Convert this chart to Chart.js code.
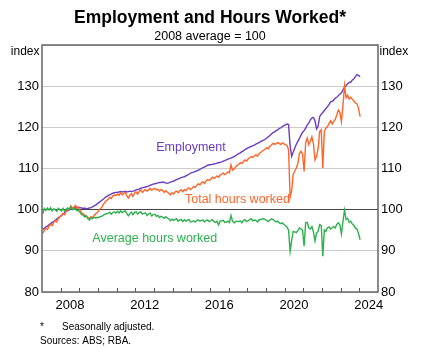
<!DOCTYPE html>
<html>
<head>
<meta charset="utf-8">
<script src="https://cdn.jsdelivr.net/npm/chart.js@4"></script>
<style>
  html, body { margin: 0; padding: 0; background: #fff; }
  canvas { display: block; }
</style>
</head>
<body>
<canvas id="chart" width="444" height="354"></canvas>
<script>
// Monthly data, Jan 2007 to Jan 2024 (2008 average = 100)
const startYear = 2007;
const yearLabels = [2008, 2012, 2016, 2020, 2024];
const yTicks = [80, 90, 100, 110, 120, 130, 140];

const employment = [
  95.2, 95.5, 95.8, 96.0, 96.3, 96.6, 96.9, 97.1, 97.4, 97.7, 98.0, 98.3,
  98.6, 98.9, 99.2, 99.5, 99.8, 100.0, 100.2, 100.4, 100.5, 100.6, 100.6, 100.6,
  100.5, 100.4, 100.3, 100.4, 100.2, 100.3, 100.4, 100.5, 100.7, 100.9, 101.1, 101.4,
  101.7, 102.0, 102.3, 102.6, 102.9, 103.2, 103.4, 103.6, 103.8, 104.0, 104.1, 104.2,
  104.2, 104.3, 104.4, 104.3, 104.4, 104.5, 104.3, 104.4, 104.5, 104.4, 104.5, 104.6,
  104.8, 104.9, 105.0, 105.2, 105.3, 105.4, 105.5, 105.6, 105.7, 105.9, 106.1, 106.2,
  106.3, 106.4, 106.5, 106.6, 106.6, 106.7, 106.6, 106.5, 106.4, 106.5, 106.7, 106.8,
  106.9, 107.1, 107.3, 107.5, 107.6, 107.8, 107.9, 108.0, 108.2, 108.4, 108.6, 108.9,
  109.0, 109.1, 109.3, 109.4, 109.6, 109.8, 110.0, 110.2, 110.4, 110.6, 110.8, 110.9,
  110.9, 111.0, 111.1, 111.2, 111.3, 111.4, 111.5, 111.6, 111.8, 111.9, 112.1, 112.3,
  112.4, 112.5, 112.7, 112.9, 113.1, 113.4, 113.6, 113.8, 114.1, 114.3, 114.6, 114.8,
  115.0, 115.2, 115.4, 115.5, 115.7, 115.9, 116.1, 116.3, 116.5, 116.7, 116.9, 117.1,
  117.4, 117.7, 118.0, 118.4, 118.7, 118.9, 119.2, 119.4, 119.7, 119.9, 120.2, 120.4,
  120.6, 120.8, 120.7, 115.5, 113.0, 114.0, 115.0, 115.9, 116.6, 117.3, 118.1, 118.8,
  119.2, 119.8, 120.6, 121.0, 121.8, 122.3, 122.4, 121.6, 119.6, 120.3, 122.6, 123.2,
  123.6, 124.1, 124.6, 125.0, 125.5, 126.2, 126.3, 126.6, 127.1, 127.3, 127.7, 128.1,
  128.4, 129.1, 129.8, 130.1, 130.6, 130.9, 131.0, 131.5, 131.8, 132.3, 132.8, 132.6,
  132.3
];

const totalHours = [
  94.3, 94.9, 95.5, 95.2, 96.0, 96.4, 96.1, 96.9, 97.3, 97.0, 97.8, 98.3,
  98.5, 99.1, 98.8, 99.6, 100.2, 100.0, 100.9, 100.4, 100.6, 101.0, 100.3, 100.5,
  99.8, 99.2, 99.0, 98.6, 98.4, 98.1, 97.9, 98.3, 98.0, 98.6, 99.0, 99.3,
  99.8, 100.2, 100.6, 101.3, 101.8, 102.2, 102.5, 103.0, 102.7, 103.3, 103.6, 103.4,
  103.8, 103.5, 104.1, 103.6, 103.9, 104.2, 103.4, 102.8, 103.5, 103.9, 103.2, 104.0,
  104.3, 103.8, 104.4, 104.8, 104.2, 104.6, 104.9, 104.5, 104.8, 105.2, 104.7, 105.0,
  105.2, 104.8, 105.0, 104.5, 104.9, 104.7, 104.2, 104.6, 104.3, 104.0, 103.6, 104.1,
  103.8, 104.3, 104.5, 104.1, 104.6, 104.8, 104.4, 104.9, 104.6, 105.1, 105.3, 104.9,
  105.2, 105.6, 105.4, 105.9, 106.3, 106.0, 106.5, 106.8, 106.4, 107.0, 107.3, 107.1,
  107.4, 107.9, 107.6, 107.8, 108.2, 107.9, 108.4, 108.6, 108.9, 108.5, 108.8, 109.2,
  109.0, 110.9, 109.6, 109.9, 110.4, 110.8, 111.0, 111.4, 111.2, 111.7, 112.1, 111.8,
  112.3, 112.6, 112.9, 112.7, 113.1, 113.3, 113.0, 113.6, 113.9, 114.2, 114.5, 114.7,
  115.0, 114.8, 115.4, 115.7, 116.1, 115.9, 116.0, 116.3, 116.1, 115.8, 116.2, 116.0,
  115.8, 115.6, 114.6, 103.0, 104.6, 108.6, 109.4, 110.1, 111.2, 113.7, 114.2, 113.6,
  109.3, 116.2, 117.4, 115.8, 116.6, 117.7, 116.0, 112.1, 112.9, 114.8, 119.0, 119.4,
  110.1, 119.0, 119.8, 120.2, 120.9, 121.6, 120.8, 121.4, 121.9, 123.0, 124.2, 123.6,
  121.4, 125.4, 130.1, 127.2, 127.8, 126.9, 127.3, 126.8, 126.4, 125.9, 125.7, 124.6,
  122.6
];

const avgHours = [
  99.0, 100.3, 99.8, 100.4, 99.9, 100.5, 99.7, 100.2, 100.0, 99.6, 100.3, 100.0,
  99.7, 100.3, 99.6, 100.1, 100.4, 100.0, 100.7, 100.0, 100.1, 100.4, 99.7, 99.9,
  99.3, 98.8, 98.7, 98.2, 98.5, 97.8, 97.5, 98.0, 97.8, 98.2, 98.0, 98.1,
  98.1, 98.3, 98.4, 98.7, 98.9, 99.0, 99.1, 99.4, 98.9, 99.3, 99.5, 99.2,
  99.6, 99.2, 99.7, 99.3, 99.5, 99.7, 99.1, 98.5, 99.0, 99.4, 98.8, 99.4,
  99.5, 98.9, 99.3, 99.5, 98.9, 99.1, 99.2, 98.6, 98.9, 99.2, 98.5, 98.8,
  98.9, 98.4, 98.6, 98.1, 98.4, 98.2, 97.9, 98.3, 98.0, 97.8, 97.3, 97.7,
  97.4, 97.6, 97.8, 97.2, 97.5, 97.6, 97.1, 97.6, 97.2, 97.5, 97.6, 97.0,
  97.1, 97.3, 97.0, 97.4, 97.5, 97.2, 97.4, 97.5, 97.0, 97.4, 97.5, 97.1,
  97.3, 97.6, 97.1, 96.9, 97.2, 96.3, 97.2, 97.3, 97.4, 96.9, 97.0, 97.2,
  96.9, 98.6, 97.2, 96.8, 97.1, 97.2, 97.1, 97.3, 96.8, 97.4, 97.6, 97.1,
  97.3, 97.6, 97.8, 97.3, 97.5, 97.4, 97.0, 97.5, 97.6, 97.7, 97.8, 97.6,
  97.4, 97.1, 97.5, 97.8, 97.6, 97.3, 97.0, 97.2, 96.8, 96.6, 96.8, 96.4,
  96.1, 95.8, 95.0, 89.9, 92.6, 94.7, 94.6, 94.4, 94.9, 95.6, 95.3, 95.0,
  91.1, 96.8, 96.9, 95.6, 95.3, 95.9, 94.6, 92.4, 94.3, 94.7, 96.4, 96.2,
  88.7, 95.1, 94.7, 95.6, 95.8, 95.3, 95.6, 95.9, 95.6, 96.4, 96.8, 96.3,
  94.1, 97.2, 99.9, 97.6, 97.9, 96.9, 97.2, 96.5, 96.2, 95.5, 95.3, 94.2,
  92.7
];

const FONT = "'Liberation Sans', Arial, sans-serif";
const PURPLE = "#6a3cc2";
const ORANGE = "#ff6428";
const GREEN = "#2eb04f";

function toPoints(values) {
  // month i plotted at the middle of that month
  return values.map((v, i) => ({ x: startYear + (i + 0.5) / 12, y: v }));
}

function series(label, values, color) {
  return {
    label: label,
    data: toPoints(values),
    borderColor: color,
    borderWidth: 1.4,
    pointRadius: 0,
    tension: 0,
    fill: false
  };
}

const decorations = {
  id: "decorations",
  beforeDatasetsDraw(chart) {
    const ctx = chart.ctx;
    const a = chart.chartArea;
    const x = chart.scales.x;
    ctx.save();
    // year tick marks pointing up into the plot
    ctx.strokeStyle = "#555";
    ctx.lineWidth = 1;
    for (let yr = startYear + 1; yr < 2025; yr++) {
      const px = Math.round(x.getPixelForValue(yr)) + 0.5;
      ctx.beginPath();
      ctx.moveTo(px, a.bottom);
      ctx.lineTo(px, a.bottom - 4);
      ctx.stroke();
    }
    ctx.restore();
  },
  afterDraw(chart) {
    const ctx = chart.ctx;
    const a = chart.chartArea;
    const x = chart.scales.x;
    const y = chart.scales.y;
    const mid = (a.left + a.right) / 2;
    ctx.save();

    // frame
    ctx.strokeStyle = "#666";
    ctx.lineWidth = 1.5;
    ctx.strokeRect(a.left, a.top, a.right - a.left, a.bottom - a.top);

    ctx.fillStyle = "#000";
    ctx.textBaseline = "alphabetic";
    ctx.textAlign = "center";
    ctx.font = "bold 17.5px " + FONT;
    ctx.fillText("Employment and Hours Worked*", mid, 22.5);
    ctx.font = "12.5px " + FONT;
    ctx.fillText("2008 average = 100", mid, 40);

    ctx.font = "12px " + FONT;
    ctx.textAlign = "right";
    ctx.fillText("index", a.left - 2.5, 55);
    ctx.textAlign = "left";
    ctx.fillText("index", a.right + 1.5, 55);

    // series labels
    ctx.font = "12.5px " + FONT;
    ctx.textAlign = "center";
    ctx.textBaseline = "middle";
    ctx.fillStyle = PURPLE;
    ctx.fillText("Employment", x.getPixelForValue(2014.98), y.getPixelForValue(115.0));
    ctx.fillStyle = ORANGE;
    ctx.fillText("Total hours worked", x.getPixelForValue(2017.47), y.getPixelForValue(102.4));
    ctx.fillStyle = GREEN;
    ctx.fillText("Average hours worked", x.getPixelForValue(2013.04), y.getPixelForValue(93.1));

    // notes
    ctx.fillStyle = "#000";
    ctx.textAlign = "left";
    ctx.textBaseline = "alphabetic";
    ctx.font = "10px " + FONT;
    ctx.fillText("*", 40, 329.5);
    ctx.fillText("Seasonally adjusted.", 62, 329.5);
    ctx.fillText("Sources: ABS; RBA.", 40, 343.5);
    ctx.restore();
  }
};

const yTickOpts = {
  color: "#000",
  font: { family: FONT, size: 13 },
  padding: 3,
  callback: v => (v === 140 ? "" : v)
};

new Chart(document.getElementById("chart"), {
  type: "line",
  data: {
    datasets: [
      series("Average hours worked", avgHours, GREEN),
      series("Total hours worked", totalHours, ORANGE),
      series("Employment", employment, PURPLE)
    ]
  },
  options: {
    responsive: false,
    animation: false,
    devicePixelRatio: 1,
    layout: { padding: { top: 45, left: 0, right: 0, bottom: 0 } },
    plugins: {
      legend: { display: false },
      title: { display: false },
      tooltip: { enabled: false }
    },
    scales: {
      x: {
        type: "linear",
        position: "bottom",
        min: startYear,
        max: 2025,
        afterBuildTicks: s => { s.ticks = yearLabels.map(v => ({ value: v + 0.5 })); },
        afterFit: s => { s.height = 62; },
        grid: { display: false, drawTicks: false },
        border: { display: false },
        ticks: {
          color: "#000",
          font: { family: FONT, size: 13 },
          padding: 6,
          maxRotation: 0,
          autoSkip: false,
          callback: v => Math.floor(v)
        }
      },
      y: {
        position: "left",
        min: 80,
        max: 140,
        afterBuildTicks: s => { s.ticks = yTicks.map(v => ({ value: v })); },
        afterFit: s => { s.width = 42; },
        grid: {
          drawTicks: false,
          lineWidth: 1,
          color: c => (c.tick && c.tick.value === 100 ? "#444" : "#cccccc")
        },
        border: { display: false },
        ticks: yTickOpts
      },
      y2: {
        position: "right",
        min: 80,
        max: 140,
        afterBuildTicks: s => { s.ticks = yTicks.map(v => ({ value: v })); },
        afterFit: s => { s.width = 66; },
        grid: { display: false, drawTicks: false },
        border: { display: false },
        ticks: yTickOpts
      }
    }
  },
  plugins: [decorations]
});
</script>
</body>
</html>
